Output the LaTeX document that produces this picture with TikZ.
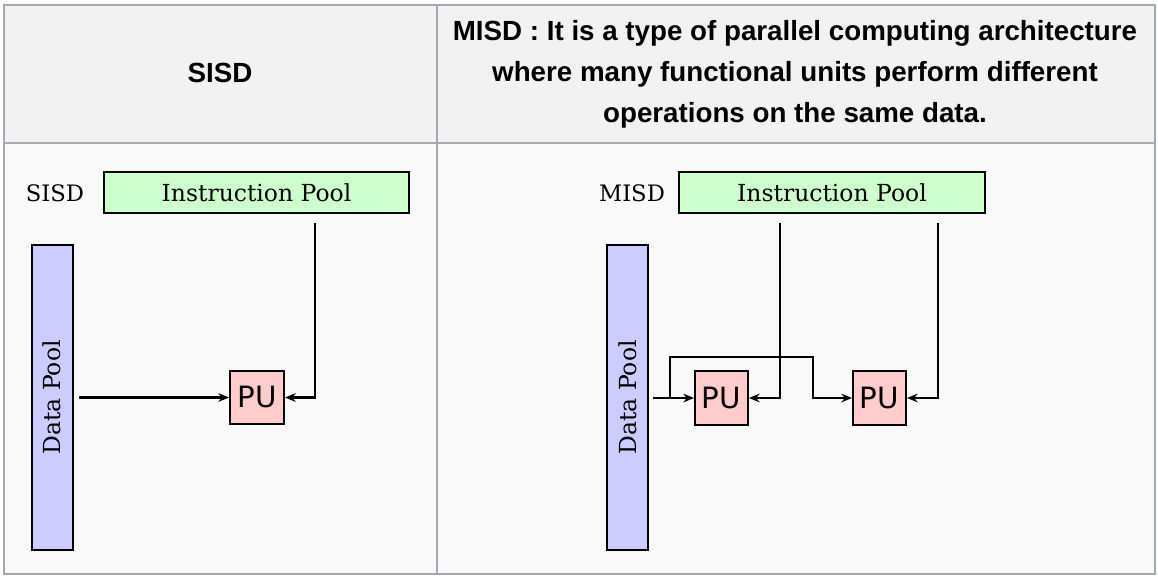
\documentclass[tikz,border=0pt]{standalone}
\usepackage{fontspec}
\setmainfont{DejaVu Serif}
\newfontfamily\hdfont{Liberation Sans}
\newfontfamily\pufont{DejaVu Sans}
\usetikzlibrary{arrows.meta}
\definecolor{hdbg}{HTML}{F2F2F2}
\definecolor{bodybg}{HTML}{F9F9F9}
\definecolor{gridc}{HTML}{A2A9B1}
\definecolor{ipgreen}{HTML}{CCFFCC}
\definecolor{dpblue}{HTML}{CCCCFF}
\definecolor{pupink}{HTML}{FFCCCC}
\tikzset{
  x=0.75pt, y=-0.75pt,
  box/.style={draw=black, line width=1.5pt, inner sep=0pt},
  sfont/.style={font=\fontsize{17.6}{21}\selectfont},
  ipool/.style={box, fill=ipgreen, sfont},
  dpool/.style={box, fill=dpblue},
  pubox/.style={box, fill=pupink, font=\pufont\fontsize{22}{26}\selectfont},
  lbl/.style={font=\fontsize{17}{20}\selectfont, inner sep=0pt},
  hd/.style={font=\hdfont\bfseries\fontsize{20.8}{30.75}\selectfont, align=center, inner sep=0pt},
  arr/.style={line width=1.6pt, -{Stealth[length=8pt,width=6.5pt]}},
}
\begin{document}
\begin{tikzpicture}
\useasboundingbox (0,0) rectangle (1158,576);
\fill[white] (0,0) rectangle (1158,576);
% table
\fill[hdbg] (4,5) rectangle (1155,143);
\fill[bodybg] (4,143) rectangle (1155,574);
\draw[gridc, line width=1.2pt] (4,5) rectangle (1155,574);
\draw[gridc, line width=1.2pt] (4,143) -- (1155,143);
\draw[gridc, line width=1.2pt] (437,5) -- (437,574);
% headers
\node[hd] (h1) at (220,73) {SISD};
\node[hd] (h2) at (795,74) {MISD : It is a type of parallel computing architecture\\where many functional units perform different\\operations on the same data.};
% SISD
\node[lbl] (l1) at (55,193) {SISD};
\node[ipool, minimum width=305*0.75pt, minimum height=41*0.75pt] (ip1) at (256.5,192.5) {Instruction Pool};
\node[dpool, minimum width=41*0.75pt, minimum height=305*0.75pt] (dp1) at (52,397.5) {};
\node[rotate=90, sfont] (dpt1) at (dp1.center) {Data Pool};
\node[pubox, minimum width=54*0.75pt, minimum height=53*0.75pt] (pu1) at (257,397.5) {PU};
\coordinate (a0) at (79,397.5);
\coordinate (a1) at (315,223);
\draw[arr] (a0) -- (pu1.west);
\draw[arr] (a1) |- (pu1.east);
% MISD
\node[lbl] (l2) at (632,193) {MISD};
\node[ipool, minimum width=306*0.75pt, minimum height=41*0.75pt] (ip2) at (832,192.5) {Instruction Pool};
\node[dpool, minimum width=41*0.75pt, minimum height=305*0.75pt] (dp2) at (627.5,397.5) {};
\node[rotate=90, sfont] (dpt2) at (dp2.center) {Data Pool};
\node[pubox, minimum width=53*0.75pt, minimum height=54*0.75pt] (pua) at (721.5,398) {PU};
\node[pubox, minimum width=53*0.75pt, minimum height=54*0.75pt] (pub) at (879.5,398) {PU};
\coordinate (b1) at (780,223);
\coordinate (b2) at (938,223);
\coordinate (d0) at (653,398);
\coordinate (d1) at (670,398);
\coordinate (d2) at (813,357);
\draw[arr] (b1) |- (pua.east);
\draw[arr] (b2) |- (pub.east);
\draw[arr] (d0) -- (pua.west);
\draw[arr] (d1) |- (d2) |- (pub.west);
\end{tikzpicture}
\end{document}
